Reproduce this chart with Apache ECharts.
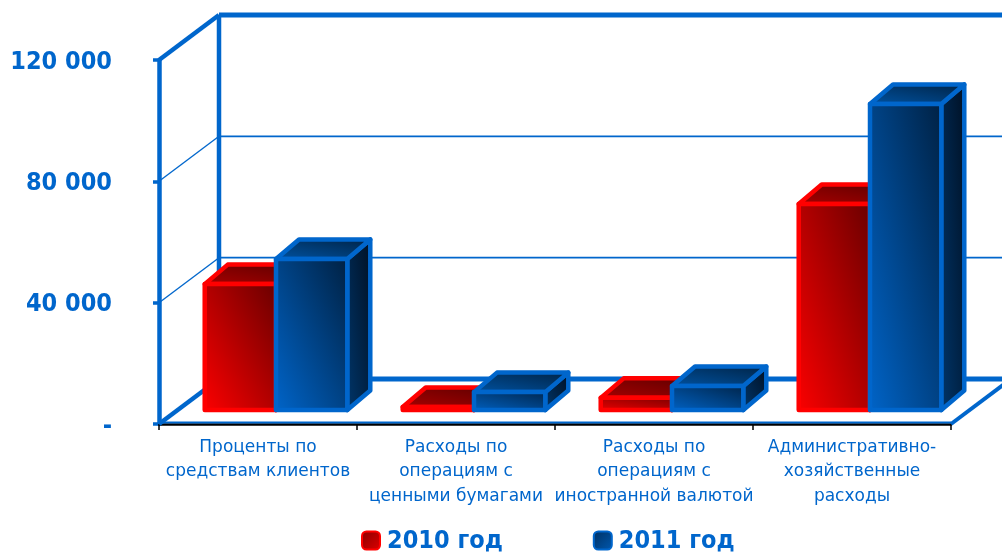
<!DOCTYPE html>
<html><head><meta charset="utf-8">
<style>html,body{margin:0;padding:0;background:#fff}#c{width:1002px;height:554px}</style>
<script src="https://cdn.jsdelivr.net/npm/echarts@6/dist/echarts.min.js"></script>
</head><body><div id="c"></div>
<script>
const categories = ['Проценты по\nсредствам клиентов','Расходы по\nоперациям с\nценными бумагами','Расходы по\nоперациям с\nиностранной валютой','Административно-\nхозяйственные\nрасходы'];
const values2010 = [41500, 1000, 4000, 67900];
const values2011 = [49800, 5900, 7900, 100900];
const yTicks = [0, 40000, 80000, 120000];
const yTickLabels = ['-', '40 000', '80 000', '120 000'];
const names = ['2010 год', '2011 год'];

const BLUE = '#0066cc', RED = '#ff0000';
const FONT_BOLD = '"DejaVu Sans Condensed","DejaVu Sans",sans-serif', FONT = '"DejaVu Sans",sans-serif';
const WALL = {dx: 60, dy: -45};
const BAR = {ratio: 0.36, shiftX: 18, shiftY: -14, dx: 23, dy: -19.5, lw: 4.5};
// corner-to-corner shading: the 50% line runs through the top-left and bottom-right corners
function diag(a, b, w, h) {
  const D = w * w + h * h || 1, u = h * h / D, t = w * w / D;
  return {type: 'linear', x: 0.5 - u, y: 0.5 + t, x2: 0.5 + u, y2: 0.5 - t,
    colorStops: [{offset: 0, color: a}, {offset: 1, color: b}]};
}
const PAL = {
  '2010': {edge: RED, front: ['#ff0000', '#660000'], top: ['#b00000', '#550000'], side: ['#800000', '#300000']},
  '2011': {edge: BLUE, front: ['#0066cc', '#001f3f'], top: ['#0058ac', '#001d3a'], side: ['#003a72', '#000c1c']}
};
function line(p, q, w, color) {
  return {type: 'line', shape: {x1: p[0], y1: p[1], x2: q[0], y2: q[1]}, style: {stroke: color || BLUE, lineWidth: w, lineCap: 'butt'}};
}
function wallItem(params, api) {
  const v = api.value(0);
  const heavy = v === 0 || v === yTicks[yTicks.length - 1];
  const a = api.coord([0, v]);
  const band = api.size([1, 0])[0];
  const left = a[0] - band / 2, right = left + band * categories.length;
  const y = a[1];
  const kids = [
    line([left, y], [left + WALL.dx, y + WALL.dy], heavy ? 4.5 : 1.3),
    line([left + WALL.dx, y + WALL.dy], [right + WALL.dx, y + WALL.dy], heavy ? 5 : 1.7)
  ];
  if (v === 0) {
    const top = api.coord([0, yTicks[yTicks.length - 1]])[1];
    kids.push(line([left + WALL.dx, y + WALL.dy], [left + WALL.dx, top + WALL.dy], 4.5));
    kids.push(line([right, y], [right + WALL.dx, y + WALL.dy], 4));
    kids.push(line([left, y - 1.5], [right, y - 1.5], 2));
  }
  return {type: 'group', children: kids};
}
function barItem(which, side) {
  return function (params, api) {
    const i = api.value(0), v = api.value(1);
    const c = api.coord([i, v]), z = api.coord([i, 0]);
    const w = api.size([1, 0])[0] * BAR.ratio;
    const xl = c[0] + BAR.shiftX + (side < 0 ? -w : 0), xr = xl + w;
    const yt = c[1] + BAR.shiftY, yb = z[1] + BAR.shiftY;
    const d = BAR.dx, e = BAR.dy, p = PAL[which], h = yb - yt;
    const poly = (pts, col, bw, bh) => ({type: 'polygon', shape: {points: pts},
      style: {fill: diag(col[0], col[1], bw, bh), stroke: p.edge, lineWidth: BAR.lw, lineJoin: 'round'}});
    return {type: 'group', children: [
      poly([[xr, yt], [xr + d, yt + e], [xr + d, yb + e], [xr, yb]], p.side, d, h - e),
      poly([[xl, yt], [xl + d, yt + e], [xr + d, yt + e], [xr, yt]], p.top, w + d, -e),
      poly([[xl, yt], [xr, yt], [xr, yb], [xl, yb]], p.front, w, h)
    ]};
  };
}
const boldText = {color: BLUE, fontFamily: FONT_BOLD, fontWeight: 'bold', fontSize: 25};
const chart = echarts.init(document.getElementById('c'), null, {renderer: 'canvas'});
chart.setOption({
  animation: false,
  backgroundColor: '#fff',
  grid: {left: 159, right: 51, top: 60, bottom: 130, containLabel: false},
  legend: {
    data: names, left: 361, top: 529, itemWidth: 18, itemHeight: 18, itemGap: 90, icon: 'roundRect', padding: 0,
    selectedMode: false,
    formatter: n => '{t|' + n + '}',
    textStyle: {color: BLUE, padding: [0, 0, 0, 2], rich: {t: {...boldText, padding: [2, 0, 0, 0]}}}
  },
  xAxis: {
    type: 'category', data: categories, offset: 1,
    axisLine: {lineStyle: {color: '#000', width: 2.5}},
    axisTick: {show: true, alignWithLabel: false, length: 6, lineStyle: {color: '#000', width: 1.5}},
    axisLabel: {interval: 0, color: BLUE, fontFamily: FONT, fontSize: 17, lineHeight: 24.5, margin: 10}
  },
  yAxis: {
    type: 'value', min: 0, max: 120000, interval: 40000,
    splitLine: {show: false},
    axisLine: {show: true, lineStyle: {color: BLUE, width: 4.5}},
    axisTick: {show: true, length: 6, lineStyle: {color: BLUE, width: 3.5}},
    axisLabel: {margin: 47, formatter: v => '{t|' + yTickLabels[yTicks.indexOf(v)] + '}',
      rich: {t: {...boldText, padding: [4, 0, 0, 0]}}}
  },
  series: [
    {type: 'custom', name: 'walls', coordinateSystem: 'cartesian2d', silent: true, clip: false, z: 1,
      data: yTicks.map(v => [v]), encode: {y: 0}, renderItem: wallItem},
    {type: 'custom', name: names[0], coordinateSystem: 'cartesian2d', clip: false, z: 2,
      itemStyle: {color: {type: 'linear', x: 0, y: 0, x2: 1, y2: 1, colorStops: [{offset: 0, color: '#880000'}, {offset: 1, color: '#e00000'}]}, borderColor: RED, borderWidth: 4},
      data: values2010.map((v, i) => [i, v]), encode: {x: 0, y: 1}, renderItem: barItem('2010', -1)},
    {type: 'custom', name: names[1], coordinateSystem: 'cartesian2d', clip: false, z: 3,
      itemStyle: {color: {type: 'linear', x: 0, y: 0, x2: 1, y2: 1, colorStops: [{offset: 0, color: '#003060'}, {offset: 1, color: '#0058b0'}]}, borderColor: BLUE, borderWidth: 4},
      data: values2011.map((v, i) => [i, v]), encode: {x: 0, y: 1}, renderItem: barItem('2011', 1)}
  ]
});
</script></body></html>
